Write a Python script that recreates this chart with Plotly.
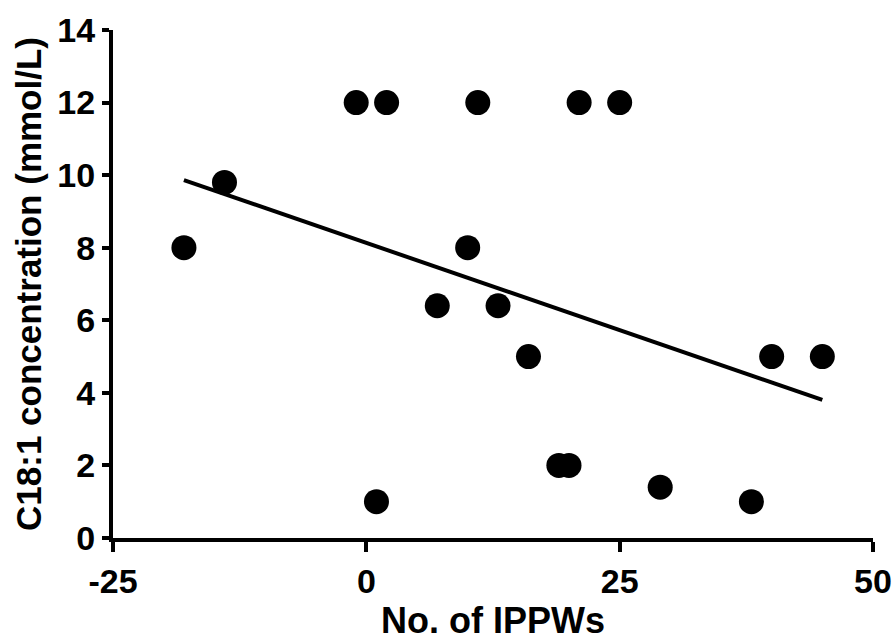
import numpy as np
import plotly.graph_objects as go

# Data
ippw = [-18, -14, -1, 2, 11, 21, 25, 10, 7, 13, 16, 19, 20, 1, 29, 38, 40, 45]
c181 = [8, 9.8, 12, 12, 12, 12, 12, 8, 6.4, 6.4, 5, 2, 2, 1, 1.4, 1, 5, 5]

x_ticks = [-25, 0, 25, 50]
y_ticks = [0, 2, 4, 6, 8, 10, 12, 14]

x_title = "No. of IPPWs"
y_title = "C18:1 concentration (mmol/L)"

# linear regression line over the data range
slope, intercept = np.polyfit(ippw, c181, 1)
fit_x = [min(ippw), max(ippw)]
fit_y = [slope * v + intercept for v in fit_x]

FONT = "Liberation Sans, Arial, sans-serif"

fig = go.Figure()
fig.add_trace(go.Scatter(x=fit_x, y=fit_y, mode="lines",
                         line=dict(color="black", width=4),
                         hoverinfo="skip", showlegend=False))
fig.add_trace(go.Scatter(x=ippw, y=c181, mode="markers",
                         marker=dict(color="black", size=25, line=dict(width=0)),
                         showlegend=False))

fig.update_layout(
    width=895, height=641,
    margin=dict(l=113, r=22, t=30, b=103),
    paper_bgcolor="white", plot_bgcolor="white",
    font=dict(family=FONT, color="black", weight="bold"),
    xaxis=dict(
        range=[-25, 50], tickvals=x_ticks, ticktext=[str(v) for v in x_ticks],
        showgrid=False, zeroline=False, automargin=False,
        showline=True, linecolor="black", linewidth=4,
        ticks="outside", ticklen=10, tickwidth=4, tickcolor="black",
        tickfont=dict(size=34, family=FONT, weight="bold"),
        title=dict(text=x_title, font=dict(size=36, family=FONT, weight="bold"), standoff=12),
    ),
    yaxis=dict(
        range=[0, 14], tickvals=y_ticks, ticktext=[str(v) for v in y_ticks],
        showgrid=False, zeroline=False, automargin=False,
        showline=True, linecolor="black", linewidth=4,
        ticks="outside", ticklen=7, tickwidth=4, tickcolor="black",
        tickfont=dict(size=34, family=FONT, weight="bold"),
        title=dict(text=y_title, font=dict(size=35, family=FONT, weight="bold"), standoff=6),
    ),
)

fig.write_html("out.html")
